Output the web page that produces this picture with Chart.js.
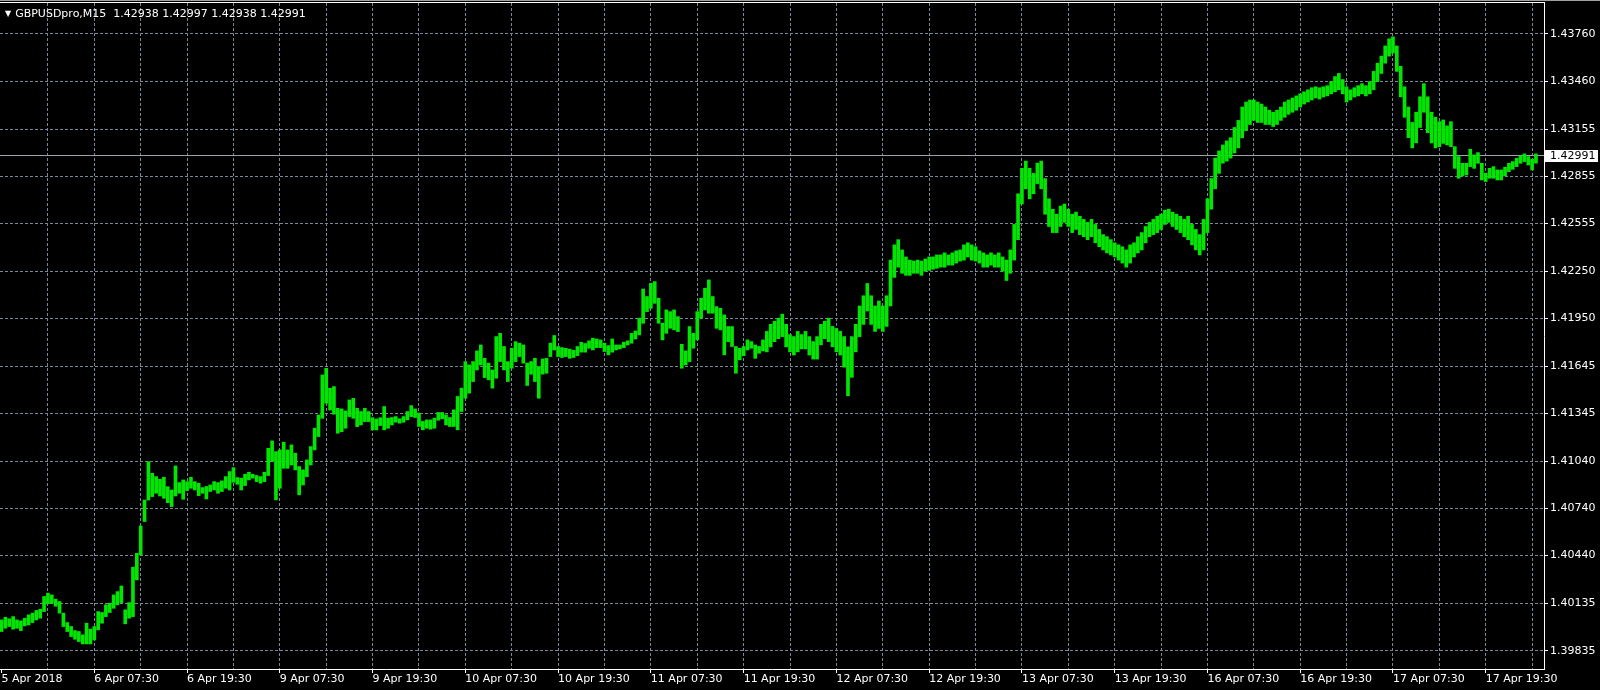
<!DOCTYPE html>
<html>
<head>
<meta charset="utf-8">
<title>GBPUSDpro,M15</title>
<script src="https://cdn.jsdelivr.net/npm/chart.js@4.4.0/dist/chart.umd.min.js"></script>
<style>
  html, body { margin: 0; padding: 0; background: #000; }
  #wrap { position: relative; width: 1600px; height: 690px; overflow: hidden; }
  #priceChart { display: block; }
  #header { position: absolute; left: 5px; top: 7px; color: #fff; font: 11px "DejaVu Sans", sans-serif; line-height: 13px; white-space: pre; }
  #header .tri { font-size: 8px; margin-right: 4px; position: relative; top: -1px; }
</style>
</head>
<body>
<div id="wrap">
  <canvas id="priceChart" width="1600" height="690"></canvas>
  <div id="header"><span class="tri">▼</span><span id="headerText"></span></div>
</div>
<script>
// symbol + last bar (open, high, low, close)
const symbol = 'GBPUSDpro,M15';
const lastBar = [1.42938, 1.42997, 1.42938, 1.42991];

// one label every 24 bars (30 min bars)
const timeLabels = ['5 Apr 2018', '6 Apr 07:30', '6 Apr 19:30', '9 Apr 07:30', '9 Apr 19:30', '10 Apr 07:30',
  '10 Apr 19:30', '11 Apr 07:30', '11 Apr 19:30', '12 Apr 07:30', '12 Apr 19:30', '13 Apr 07:30',
  '13 Apr 19:30', '16 Apr 07:30', '16 Apr 19:30', '17 Apr 07:30', '17 Apr 19:30'];

const priceTicks = [1.39835, 1.40135, 1.40440, 1.40740, 1.41040, 1.41345, 1.41645,
  1.41950, 1.42250, 1.42555, 1.42855, 1.43155, 1.43460, 1.43760];

// bar highs
const highs = [
  1.40031, 1.40048, 1.40038, 1.40052, 1.40031, 1.40025, 1.40042, 1.40063, 1.40074, 1.40091,
  1.40099, 1.40180, 1.40201, 1.40190, 1.40163, 1.40148, 1.40074, 1.40014, 1.39989, 1.39963,
  1.39957, 1.39936, 1.40010, 1.39972, 1.39989, 1.40084, 1.40078, 1.40127, 1.40137, 1.40190,
  1.40211, 1.40247, 1.40095, 1.40141, 1.40366, 1.40455, 1.40629, 1.40794, 1.41038, 1.40964,
  1.40943, 1.40926, 1.40939, 1.40879, 1.40858, 1.41011, 1.40905, 1.40922, 1.40911, 1.40939,
  1.40911,
  1.40901, 1.40873, 1.40880, 1.40890, 1.40911, 1.40905, 1.40916, 1.40943, 1.40975, 1.41000,
  1.40937, 1.40933, 1.40958, 1.40971, 1.40958, 1.40950, 1.40943, 1.40971, 1.41123, 1.41170,
  1.41102, 1.41113, 1.41162, 1.41113, 1.41145, 1.41092, 1.41007, 1.40986, 1.41049, 1.41134,
  1.41251, 1.41335, 1.41590, 1.41632, 1.41505, 1.41516, 1.41378, 1.41374, 1.41361, 1.41431,
  1.41441, 1.41378, 1.41357, 1.41378, 1.41357, 1.41318, 1.41310, 1.41318,
  1.41389, 1.41315, 1.41319, 1.41325, 1.41311, 1.41325, 1.41357, 1.41395, 1.41374, 1.41347,
  1.41294, 1.41304, 1.41304, 1.41315, 1.41351, 1.41351, 1.41336, 1.41319, 1.41368, 1.41453,
  1.41506, 1.41675, 1.41654, 1.41675, 1.41743, 1.41781, 1.41696, 1.41665, 1.41622, 1.41834,
  1.41855, 1.41771, 1.41675, 1.41760, 1.41802, 1.41792, 1.41781, 1.41665, 1.41675, 1.41696,
  1.41643, 1.41692, 1.41696, 1.41792, 1.41841, 1.41771, 1.41764, 1.41760, 1.41754, 1.41747,
  1.41771, 1.41798, 1.41790, 1.41807, 1.41824, 1.41819, 1.41813, 1.41792, 1.41777, 1.41819,
  1.41781, 1.41781, 1.41798, 1.41807, 1.41855, 1.41870, 1.41951, 1.42137, 1.42089, 1.42173,
  1.42184, 1.42078, 1.41919, 1.42004, 1.41993, 1.42004, 1.41961, 1.41785, 1.41743, 1.41898,
  1.41855, 1.41993, 1.42078, 1.42142, 1.42195, 1.42089, 1.42025, 1.42014, 1.41972, 1.41898,
  1.41898, 1.41771, 1.41760, 1.41771, 1.41813, 1.41802, 1.41781, 1.41771, 1.41813,
  1.41867, 1.41912, 1.41932, 1.41951, 1.41977, 1.41912, 1.41847, 1.41834, 1.41867, 1.41847,
  1.41867, 1.41834, 1.41802, 1.41834, 1.41912, 1.41932, 1.41951, 1.41899, 1.41886, 1.41867,
  1.41834, 1.41769, 1.41834, 1.41912, 1.42029, 1.42094, 1.42172, 1.42094, 1.42029, 1.42061,
  1.42029, 1.42094, 1.42321, 1.42418, 1.42451, 1.42386, 1.42341, 1.42321, 1.42315, 1.42321,
  1.42315, 1.42328, 1.42341, 1.42341, 1.42354, 1.42354, 1.42367, 1.42354, 1.42367, 1.42380,
  1.42386, 1.42418, 1.42431, 1.42418, 1.42406, 1.42380, 1.42367, 1.42354, 1.42367, 1.42354,
  1.42367, 1.42341, 1.42321, 1.42386, 1.42548, 1.42743, 1.42905, 1.42951, 1.42905, 1.42873,
  1.42938, 1.42951, 1.42840, 1.42711, 1.42645, 1.42613, 1.42665, 1.42678, 1.42645, 1.42613,
  1.42626, 1.42600, 1.42580, 1.42561, 1.42580, 1.42548, 1.42516, 1.42483, 1.42470, 1.42451,
  1.42431, 1.42418, 1.42406, 1.42386, 1.42418, 1.42431, 1.42470, 1.42496, 1.42535, 1.42561,
  1.42580, 1.42600, 1.42613, 1.42639, 1.42645, 1.42626, 1.42613, 1.42600, 1.42580, 1.42600,
  1.42548, 1.42516, 1.42483, 1.42580, 1.42711, 1.42840, 1.42970, 1.43016, 1.43054, 1.43080,
  1.43100, 1.43165, 1.43210, 1.43295, 1.43327, 1.43340, 1.43340, 1.43327, 1.43314, 1.43295,
  1.43275, 1.43262, 1.43275, 1.43295, 1.43327, 1.43340, 1.43353, 1.43366, 1.43379, 1.43392,
  1.43405, 1.43418, 1.43424, 1.43418, 1.43424, 1.43431, 1.43457, 1.43489, 1.43509, 1.43470,
  1.43424, 1.43405, 1.43418, 1.43431, 1.43444, 1.43431, 1.43457, 1.43522, 1.43574, 1.43619,
  1.43684, 1.43729, 1.43742, 1.43684, 1.43554, 1.43424, 1.43295, 1.43197, 1.43262, 1.43360,
  1.43444, 1.43360, 1.43262, 1.43230,
  1.43202, 1.43213, 1.43175, 1.43202, 1.43043, 1.42980, 1.42937, 1.42937, 1.43026, 1.42990,
  1.43005, 1.42937, 1.42874, 1.42905, 1.42916, 1.42895, 1.42895, 1.42912, 1.42937, 1.42948,
  1.42969, 1.42984, 1.42997, 1.42980, 1.42963, 1.42997
];

// bar lows
const lows = [
  1.39957, 1.39978, 1.39989, 1.39972, 1.39978, 1.39963, 1.39993, 1.39999, 1.40014, 1.40031,
  1.40042, 1.40084, 1.40133, 1.40137, 1.40118, 1.40074, 1.39989, 1.39957, 1.39925, 1.39908,
  1.39893, 1.39878, 1.39878, 1.39878, 1.39904, 1.39968, 1.40010, 1.40052, 1.40078, 1.40105,
  1.40127, 1.40141, 1.40006, 1.40042, 1.40052, 1.40286, 1.40445, 1.40657, 1.40794, 1.40816,
  1.40837, 1.40820, 1.40805, 1.40777, 1.40752, 1.40820, 1.40837, 1.40799, 1.40854, 1.40869,
  1.40858,
  1.40822, 1.40837, 1.40801, 1.40848, 1.40858, 1.40837, 1.40848, 1.40869, 1.40858, 1.40907,
  1.40894, 1.40858, 1.40886, 1.40922, 1.40933, 1.40911, 1.40901, 1.40911, 1.40950, 1.41039,
  1.40795, 1.40869, 1.40996, 1.40996, 1.41017, 1.40986, 1.40827, 1.40890, 1.40943, 1.41017,
  1.41113, 1.41198, 1.41314, 1.41410, 1.41367, 1.41340, 1.41219, 1.41229, 1.41251, 1.41325,
  1.41314, 1.41261, 1.41272, 1.41293, 1.41293, 1.41240, 1.41240, 1.41268,
  1.41241, 1.41251, 1.41272, 1.41289, 1.41283, 1.41289, 1.41304, 1.41325, 1.41319, 1.41262,
  1.41241, 1.41251, 1.41245, 1.41251, 1.41302, 1.41311, 1.41272, 1.41262, 1.41262, 1.41241,
  1.41357, 1.41442, 1.41474, 1.41548, 1.41622, 1.41654, 1.41573, 1.41559, 1.41506, 1.41569,
  1.41675, 1.41622, 1.41548, 1.41633, 1.41675, 1.41707, 1.41665, 1.41523, 1.41595, 1.41548,
  1.41442, 1.41595, 1.41601, 1.41707, 1.41749, 1.41707, 1.41701, 1.41707, 1.41696, 1.41701,
  1.41713, 1.41735, 1.41735, 1.41760, 1.41749, 1.41764, 1.41764, 1.41739, 1.41718, 1.41735,
  1.41749, 1.41756, 1.41764, 1.41781, 1.41792, 1.41819, 1.41845, 1.41919, 1.41993, 1.42014,
  1.42046, 1.41919, 1.41813, 1.41855, 1.41887, 1.41877, 1.41866, 1.41633, 1.41654, 1.41675,
  1.41760, 1.41813, 1.41951, 1.42004, 1.41983, 1.41983, 1.41887, 1.41877, 1.41718, 1.41802,
  1.41771, 1.41601, 1.41686, 1.41713, 1.41749, 1.41760, 1.41696, 1.41728, 1.41743,
  1.41737, 1.41769, 1.41802, 1.41821, 1.41834, 1.41769, 1.41737, 1.41717, 1.41737, 1.41756,
  1.41756, 1.41717, 1.41691, 1.41691, 1.41782, 1.41821, 1.41802, 1.41769, 1.41737, 1.41717,
  1.41640, 1.41458, 1.41575, 1.41737, 1.41834, 1.41912, 1.41997, 1.41912, 1.41867, 1.41886,
  1.41867, 1.41899, 1.42029, 1.42211, 1.42276, 1.42237, 1.42224, 1.42224, 1.42237, 1.42237,
  1.42224, 1.42250, 1.42256, 1.42263, 1.42269, 1.42276, 1.42276, 1.42289, 1.42289, 1.42302,
  1.42315, 1.42321, 1.42341, 1.42321, 1.42315, 1.42302, 1.42276, 1.42276, 1.42289, 1.42276,
  1.42276, 1.42250, 1.42191, 1.42237, 1.42321, 1.42451, 1.42678, 1.42775, 1.42711, 1.42743,
  1.42808, 1.42775, 1.42613, 1.42535, 1.42496, 1.42496, 1.42535, 1.42561, 1.42535, 1.42496,
  1.42516, 1.42483, 1.42470, 1.42451, 1.42470, 1.42431, 1.42406, 1.42386, 1.42367, 1.42354,
  1.42341, 1.42321, 1.42302, 1.42276, 1.42302, 1.42341, 1.42367, 1.42386, 1.42431, 1.42470,
  1.42483, 1.42496, 1.42516, 1.42548, 1.42561, 1.42535, 1.42516, 1.42496, 1.42470, 1.42451,
  1.42418, 1.42386, 1.42354, 1.42386, 1.42496, 1.42645, 1.42775, 1.42873, 1.42938, 1.42951,
  1.42970, 1.43003, 1.43035, 1.43100, 1.43145, 1.43184, 1.43210, 1.43197, 1.43197, 1.43184,
  1.43184, 1.43171, 1.43184, 1.43210, 1.43230, 1.43249, 1.43262, 1.43275, 1.43295, 1.43314,
  1.43327, 1.43340, 1.43353, 1.43346, 1.43359, 1.43366, 1.43379, 1.43392, 1.43405, 1.43379,
  1.43327, 1.43340, 1.43359, 1.43366, 1.43379, 1.43366, 1.43379, 1.43405, 1.43457, 1.43509,
  1.43574, 1.43619, 1.43639, 1.43522, 1.43360, 1.43230, 1.43100, 1.43035, 1.43067, 1.43165,
  1.43262, 1.43132, 1.43067, 1.43035,
  1.43043, 1.43064, 1.43054, 1.43043, 1.42905, 1.42842, 1.42857, 1.42863, 1.42916, 1.42905,
  1.42937, 1.42831, 1.42821, 1.42842, 1.42842, 1.42831, 1.42831, 1.42857, 1.42884, 1.42899,
  1.42916, 1.42937, 1.42948, 1.42927, 1.42895, 1.42938
];

const barsPerLabel = 24;
const gridStep = 12;
const gridColor = '#778899';
const axisFont = { family: 'DejaVu Sans', size: 11 };

document.getElementById('headerText').textContent =
  symbol + '  ' + lastBar.map(v => v.toFixed(5)).join(' ');

// vertical grid every 12 bars, labels every 24
const gridIdx = [];
for (let i = 0; i <= highs.length; i += gridStep) gridIdx.push(i);

const bid = lastBar[3];

const mtPlugin = {
  id: 'mtDecor',
  beforeDatasetsDraw(chart) {
    // bid line
    const { ctx, chartArea } = chart;
    const y = Math.round(chart.scales.y.getPixelForValue(bid)) + 0.5;
    ctx.save();
    ctx.strokeStyle = '#9aa4ae';
    ctx.lineWidth = 1;
    ctx.beginPath();
    ctx.moveTo(chartArea.left, y);
    ctx.lineTo(chartArea.right, y);
    ctx.stroke();
    ctx.restore();
  },
  afterDraw(chart) {
    const { ctx, chartArea } = chart;
    ctx.save();
    // window frame at the top
    ctx.fillStyle = '#a0a0a0';
    ctx.fillRect(0, 0, chart.width, 1);
    ctx.fillStyle = '#ffffff';
    ctx.fillRect(0, chartArea.top - 1, chartArea.right + 1, 1);
    // bid price box
    const y = Math.round(chart.scales.y.getPixelForValue(bid));
    ctx.fillStyle = '#ffffff';
    ctx.fillRect(chartArea.right + 1, y - 5, 53, 12);
    ctx.fillStyle = '#000000';
    ctx.font = '11px "DejaVu Sans"';
    ctx.textBaseline = 'middle';
    ctx.textAlign = 'left';
    ctx.fillText(bid.toFixed(5), chartArea.right + 6, y + 1);
    ctx.restore();
  }
};

new Chart(document.getElementById('priceChart'), {
  type: 'bar',
  data: {
    datasets: [{
      label: symbol,
      data: highs.map((h, i) => ({ x: i, y: [lows[i], h] })),
      backgroundColor: '#00e600',
      borderWidth: 0,
      borderSkipped: false,
      barThickness: 3,
      grouped: false
    }]
  },
  options: {
    responsive: false,
    animation: false,
    devicePixelRatio: 1,
    events: [],
    layout: { padding: { top: 3, left: 0, right: 0, bottom: 0 } },
    plugins: { legend: { display: false }, tooltip: { enabled: false } },
    scales: {
      x: {
        type: 'linear',
        min: -0.4,
        max: 399.08,
        offset: false,
        afterBuildTicks: s => { s.ticks = gridIdx.map(v => ({ value: v })); },
        afterFit: s => { s.height = 21; s.paddingLeft = 0; s.paddingRight = 0; },
        ticks: {
          autoSkip: false, maxRotation: 0, minRotation: 0, align: 'start', padding: 0,
          color: '#ffffff', font: axisFont,
          callback: v => (v % barsPerLabel === 0 && timeLabels[v / barsPerLabel]) || ''
        },
        grid: {
          offset: false,
          color: c => (c.tick && c.tick.value === 0) ? 'rgba(0,0,0,0)' : gridColor,
          tickColor: c => (c.tick && c.tick.value % barsPerLabel === 0) ? '#ffffff' : 'rgba(0,0,0,0)',
          tickLength: 4
        },
        border: { display: true, color: '#ffffff', width: 1, dash: [3, 2] }
      },
      y: {
        type: 'linear',
        position: 'right',
        min: 1.397185,
        max: 1.439573,
        afterBuildTicks: s => { s.ticks = priceTicks.map(v => ({ value: v })); },
        afterFit: s => { s.width = 56; s.paddingTop = 0; s.paddingBottom = 0; },
        ticks: { padding: 2, color: '#ffffff', font: axisFont, callback: v => v.toFixed(5) },
        grid: { color: gridColor, tickColor: '#ffffff', tickLength: 4 },
        border: { display: true, color: '#ffffff', width: 1, dash: [3, 2] }
      }
    }
  },
  plugins: [mtPlugin]
});
</script>
</body>
</html>
